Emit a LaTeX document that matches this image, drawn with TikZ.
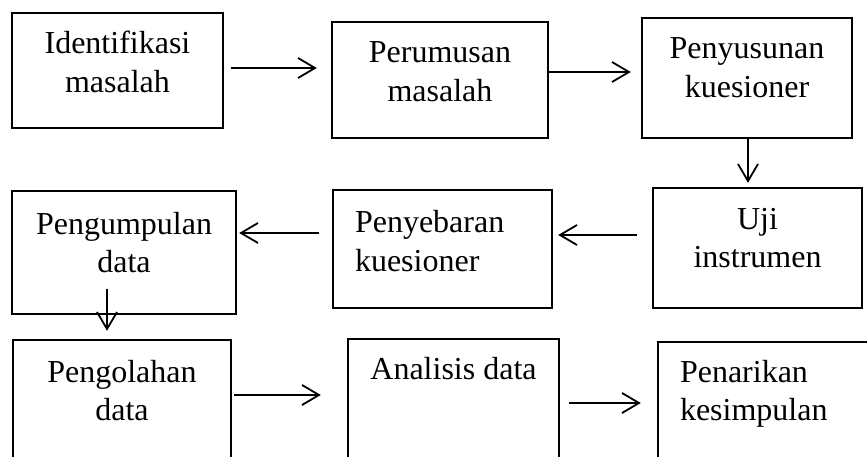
\documentclass[tikz,border=0pt]{standalone}
\usepackage{fontspec}
\setmainfont{Liberation Serif}[Ligatures=NoCommon]
\usetikzlibrary{arrows.meta,%
	positioning}

\begin{document}
\begin{tikzpicture}[x=1pt,y=-1pt,
	stage_node/.style={draw,line width=2.4pt,inner sep=0pt,align=center,font=\fontsize{32}{38.5}\selectfont,text height=79.5pt},
	flow_arrow/.style={line width=1.8pt,-{Straight Barb[length=17pt,width=20pt]}}]

		\useasboundingbox (0,0) rectangle (867,457);
		\clip (0,0) rectangle (867,457);

		\node[stage_node,minimum width=211pt,text depth=35.5pt] (1) at (117.5,70.5) {Identifikasi\\masalah};
		\node[stage_node,minimum width=216pt,text depth=36.5pt] (2) at (440,80) {Perumusan\\masalah};
		\node[stage_node,minimum width=210pt,text depth=40.5pt] (3) at (747,78) {Penyusunan\\kuesioner};
		\node[stage_node,minimum width=209pt,text depth=40.5pt] (4) at (757.5,248) {Uji\\instrumen};
		\node[stage_node,align=left,text width=175pt,inner xsep=22pt,text height=43pt,text depth=75pt] (5) at (442.5,249) {Penyebaran\\kuesioner};
		\node[stage_node,minimum width=224pt,text height=81.5pt,text depth=41.5pt] (6) at (124,252.5) {Pengumpulan\\data};
		\node[stage_node,minimum width=218pt,text height=80.5pt,text depth=59.5pt] (7) at (122,410) {Pengolahan\\data};
		\node[stage_node,minimum width=211pt,text height=40pt,text depth=101pt] (8) at (453.5,409.5) {Analisis data};
		\node[stage_node,align=left,text width=188pt,inner xsep=22pt,text height=40pt,text depth=98pt] (9) at (774,411) {Penarikan\\kesimpulan};


		\draw[flow_arrow] ([shift={(7,-2.5)}]1.east) -- ([shift={(-14,-12)}]2.west);
		\draw[flow_arrow] ([shift={(0,-8)}]2.east) -- ([shift={(-10,-6)}]3.west);
		\draw[flow_arrow] ([shift={(1,0)}]3.south) -- ([shift={(-9.5,-4)}]4.north);
		\draw[flow_arrow] ([shift={(-15,-13)}]4.west) -- ([shift={(5,-14)}]5.east);
		\draw[flow_arrow] ([shift={(-13,-16)}]5.west) -- ([shift={(2,-19.5)}]6.east);
		\draw[flow_arrow] ([shift={(-17,-26)}]6.south) -- ([shift={(-15,-8)}]7.north);
		\draw[flow_arrow] ([shift={(2,-15)}]7.east) -- ([shift={(-26,-14.5)}]8.west);
		\draw[flow_arrow] ([shift={(9,-6.5)}]8.east) -- ([shift={(-16,-8)}]9.west);
		\end{tikzpicture}
\end{document}
